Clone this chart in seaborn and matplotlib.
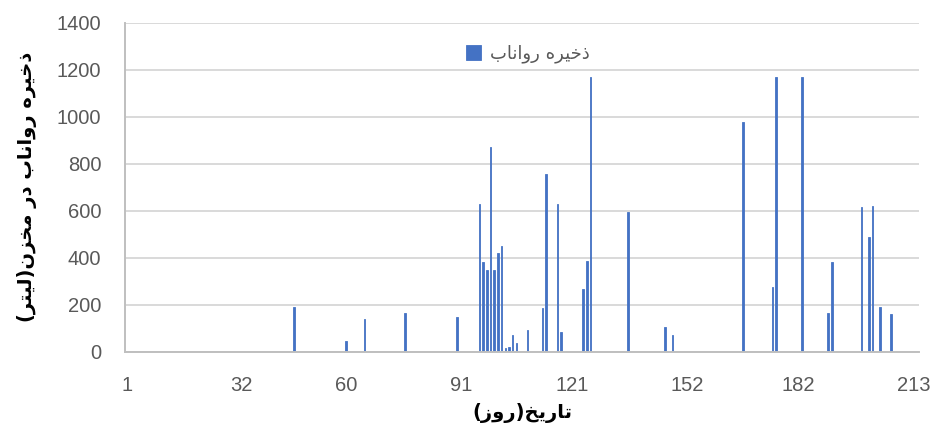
import matplotlib
matplotlib.use("Agg")
import matplotlib.pyplot as plt
import seaborn as sns
import pandas as pd

# ---- data ----
days = [46, 60, 65, 76, 90, 96, 97, 98, 99, 100, 101, 102, 103, 104, 105, 106, 109,
        113, 114, 117, 118, 124, 125, 126, 136, 146, 148, 167, 175, 176, 183, 190,
        191, 199, 201, 202, 204, 207]
values = [193, 48, 142, 167, 148, 629, 384, 347, 870, 349, 420, 449, 17, 21, 74, 38, 92,
          186, 755, 629, 84, 269, 387, 1169, 594, 105, 71, 978, 275, 1169, 1169, 165,
          384, 616, 489, 621, 191, 160]
tick_days = [1, 32, 60, 91, 121, 152, 182, 213]
n_days = 214
series_name = "ذخیره رواناب"
y_title = "ذخیره رواناب در مخزن(لیتر)"
x_title = "تاریخ(روز)"

# ---- simple Persian shaping (presentation forms, visual order) ----
FORMS = {
    "ا": ("\uFE8D", "\uFE8E"),
    "ب": ("\uFE8F", "\uFE90", "\uFE91", "\uFE92"),
    "ت": ("\uFE95", "\uFE96", "\uFE97", "\uFE98"),
    "خ": ("\uFEA5", "\uFEA6", "\uFEA7", "\uFEA8"),
    "د": ("\uFEA9", "\uFEAA"),
    "ذ": ("\uFEAB", "\uFEAC"),
    "ر": ("\uFEAD", "\uFEAE"),
    "ز": ("\uFEAF", "\uFEB0"),
    "ل": ("\uFEDD", "\uFEDE", "\uFEDF", "\uFEE0"),
    "م": ("\uFEE1", "\uFEE2", "\uFEE3", "\uFEE4"),
    "ن": ("\uFEE5", "\uFEE6", "\uFEE7", "\uFEE8"),
    "ه": ("\uFEE9", "\uFEEA", "\uFEEB", "\uFEEC"),
    "و": ("\uFEED", "\uFEEE"),
    "ی": ("\uFEEF", "\uFEF0", "\uFEF3", "\uFEF4"),
}


def shape(text):
    out = []
    for i, c in enumerate(text):
        if c not in FORMS:
            out.append(c)
            continue
        prev = text[i - 1] if i > 0 else None
        nxt = text[i + 1] if i + 1 < len(text) else None
        f = FORMS[c]
        jp = prev in FORMS and len(FORMS[prev]) == 4
        jn = len(f) == 4 and nxt in FORMS
        if jp and jn:
            out.append(f[3])
        elif jp:
            out.append(f[1])
        elif jn:
            out.append(f[2])
        else:
            out.append(f[0])
    vis = "".join(reversed(out))
    return vis.translate(str.maketrans({"(": ")", ")": "("}))


# ---- frame ----
full = pd.DataFrame({"day": list(range(1, n_days + 1))})
full["value"] = full["day"].map(dict(zip(days, values))).fillna(0)

sns.set_theme(style="white")
plt.rcParams["font.family"] = ["Liberation Sans", "DejaVu Sans"]

fig = plt.figure(figsize=(9.32, 4.28), dpi=100)
ax = fig.add_axes([0.1341, 0.1776, 0.852, 0.7694])

bar_color = "#4472C4"
sns.barplot(data=full, x="day", y="value", order=list(range(1, n_days + 1)),
            color=bar_color, width=0.4, saturation=1, ax=ax,
            label=shape(series_name), linewidth=0.6, edgecolor=bar_color)

ax.set_xlim(-0.5, n_days - 0.5)
ax.set_ylim(0, 1400)
ax.set_yticks(range(0, 1401, 200))
ax.set_xticks([d - 1 for d in tick_days])
ax.set_xticklabels([str(d) for d in tick_days])
ax.tick_params(axis="both", length=0, labelsize=14.5, labelcolor="#595959", pad=17)

ax.yaxis.grid(True, color="#D9D9D9", linewidth=1.4)
ax.xaxis.grid(False)
ax.set_axisbelow(True)
for s in ["top", "right"]:
    ax.spines[s].set_visible(False)
for s in ["left", "bottom"]:
    ax.spines[s].set_color("#BFBFBF")
    ax.spines[s].set_linewidth(1.4)

ax.set_xlabel(shape(x_title), fontsize=14, fontweight="bold", family=["DejaVu Sans"],
              color="black", labelpad=6)
ax.set_ylabel(shape(y_title), fontsize=14, fontweight="bold", family=["DejaVu Sans"],
              color="black", labelpad=14)

leg = ax.legend(loc="center", bbox_to_anchor=(0.507, 0.905), frameon=False,
                handlelength=0.85, handleheight=0.85, handletextpad=0.5,
                prop={"family": ["DejaVu Sans"], "size": 13})
for t in leg.get_texts():
    t.set_color("#595959")

fig.savefig("out.png", dpi=100)
